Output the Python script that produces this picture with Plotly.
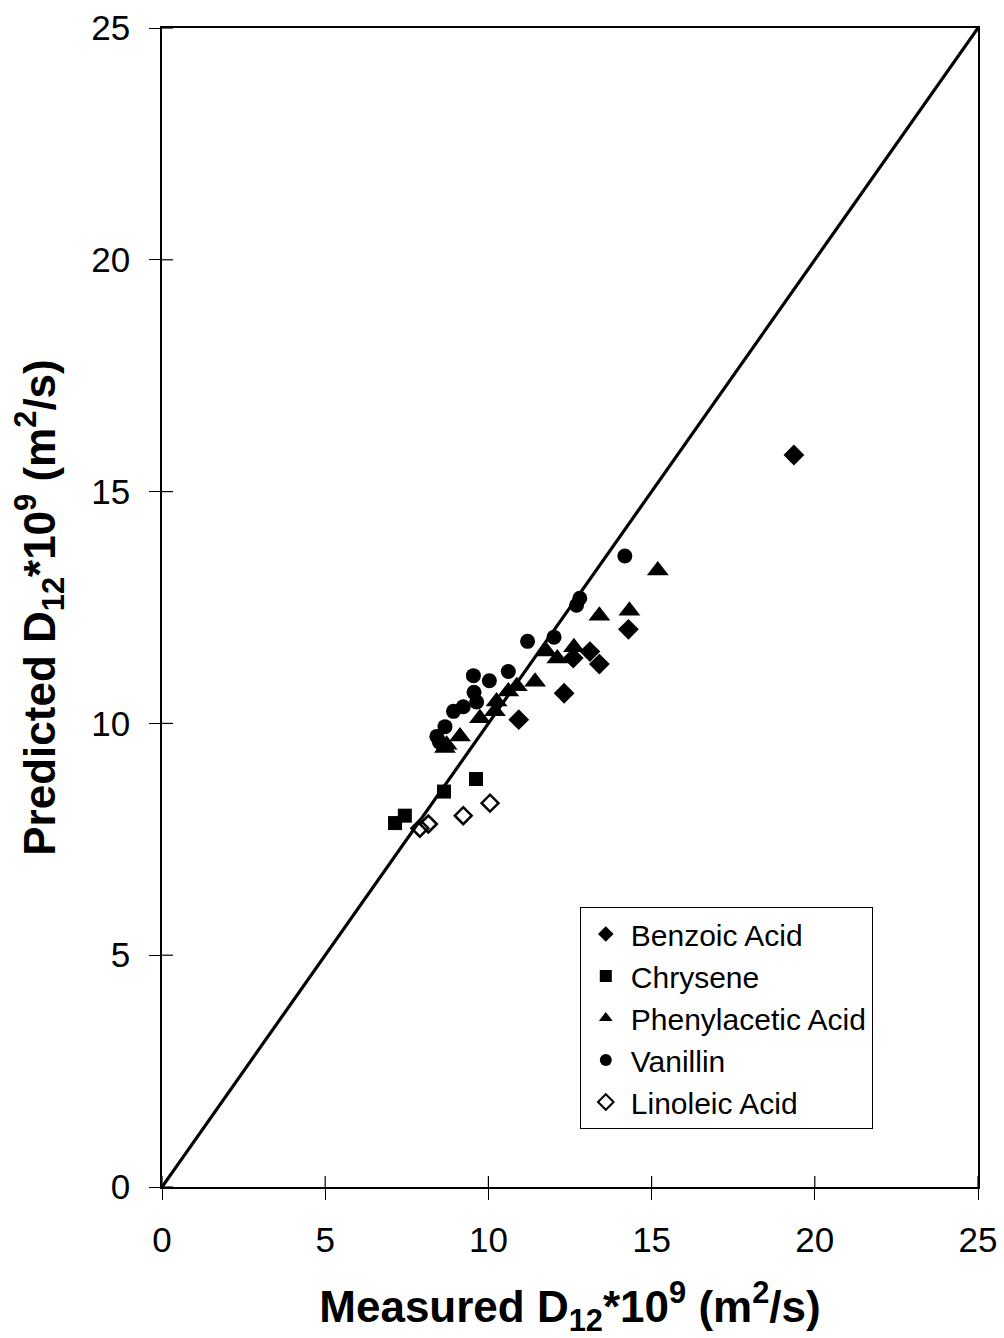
import plotly.graph_objects as go

benzoic_x = [19.36, 14.29, 13.11, 13.40, 12.60, 12.32, 10.93]
benzoic_y = [15.79, 12.03, 11.55, 11.28, 11.41, 10.65, 10.08]

chrysene_x = [9.62, 8.64, 7.44, 7.14]
chrysene_y = [8.80, 8.53, 8.01, 7.85]

phenyl_x = [15.19, 13.40, 14.32, 12.62, 11.78, 12.11, 11.43, 10.87, 10.61, 10.25, 10.20, 9.74, 9.13, 8.72, 8.67]
phenyl_y = [13.30, 12.32, 12.43, 11.64, 11.55, 11.40, 10.90, 10.80, 10.69, 10.47, 10.26, 10.11, 9.72, 9.54, 9.47]

vanillin_x = [14.18, 12.70, 12.80, 12.01, 11.20, 10.61, 9.54, 10.03, 9.56, 9.64, 9.23, 8.93, 8.67, 8.42, 8.50]
vanillin_y = [13.61, 12.55, 12.70, 11.86, 11.77, 11.12, 11.03, 10.92, 10.67, 10.46, 10.36, 10.26, 9.93, 9.72, 9.60]

linoleic_x = [10.05, 9.23, 8.16, 7.90]
linoleic_y = [8.28, 8.01, 7.83, 7.74]

line_x = [0, 25]
line_y = [0, 25]

ticks = [0, 5, 10, 15, 20, 25]

FONT = "Liberation Sans, Arial, sans-serif"

fig = go.Figure()
fig.add_trace(go.Scatter(x=line_x, y=line_y, mode="lines",
                         line=dict(color="black", width=3.2), showlegend=False))
fig.add_trace(go.Scatter(x=benzoic_x, y=benzoic_y, mode="markers", name="Benzoic Acid",
                         marker=dict(symbol="diamond", size=16, color="black")))
fig.add_trace(go.Scatter(x=chrysene_x, y=chrysene_y, mode="markers", name="Chrysene",
                         marker=dict(symbol="square", size=14, color="black")))
fig.add_trace(go.Scatter(x=phenyl_x, y=phenyl_y, mode="markers", name="Phenylacetic Acid",
                         marker=dict(symbol="triangle-up", size=19, color="black")))
fig.add_trace(go.Scatter(x=vanillin_x, y=vanillin_y, mode="markers", name="Vanillin",
                         marker=dict(symbol="circle", size=15, color="black")))
fig.add_trace(go.Scatter(x=linoleic_x, y=linoleic_y, mode="markers", name="Linoleic Acid",
                         marker=dict(symbol="diamond-open", size=13, color="black",
                                     line=dict(width=2.5, color="black"))))

axis_common = dict(range=[0, 25], tickvals=ticks, ticks="outside", ticklen=11, tickwidth=1.2,
                   tickcolor="black", showline=True, linecolor="black", linewidth=1.5,
                   mirror=True, showgrid=False, zeroline=False, automargin=False,
                   tickfont=dict(size=35, family=FONT, color="black"))

# inner half of the crossing tick marks, placed at the tick values on the data axes
shapes = []
for v in ticks:
    shapes.append(dict(type="line", xref="x", yref="y domain", x0=v, x1=v, y0=0, y1=0.0095,
                       line=dict(color="black", width=1.2)))
    shapes.append(dict(type="line", xref="x domain", yref="y", x0=0, x1=0.0135, y0=v, y1=v,
                       line=dict(color="black", width=1.2)))

fig.update_layout(
    width=1004, height=1338,
    margin=dict(l=162, r=26, t=28, b=151, autoexpand=False),
    paper_bgcolor="white", plot_bgcolor="white",
    font=dict(family=FONT, color="black", size=24),
    xaxis=dict(**axis_common, ticklabelstandoff=10,
               title=dict(text="<b>Measured D<sub>12</sub>*10<sup>9</sup> (m<sup>2</sup>/s)</b>",
                          font=dict(size=44, family=FONT), standoff=34)),
    yaxis=dict(**axis_common, ticklabelstandoff=12,
               title=dict(text="<b>Predicted D<sub>12</sub>*10<sup>9</sup> (m<sup>2</sup>/s)</b>",
                          font=dict(size=44, family=FONT), standoff=22)),
    shapes=shapes,
    legend=dict(x=0.512, y=0.2416, xanchor="left", yanchor="top",
                bordercolor="black", borderwidth=1, bgcolor="white",
                font=dict(size=30, family=FONT), itemsizing="constant",
                tracegroupgap=0, itemwidth=40),
    showlegend=True,
)

fig.write_html("out.html")
